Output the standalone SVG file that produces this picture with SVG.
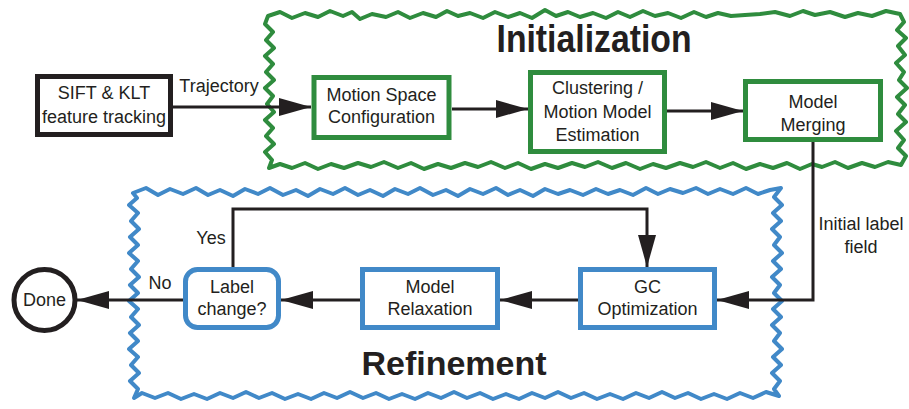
<svg xmlns="http://www.w3.org/2000/svg" width="909" height="409" viewBox="0 0 909 409">
<defs>
<style>
.t{font-family:"Liberation Sans",Arial,sans-serif;font-size:18px;fill:#231f20;text-anchor:middle}
.title{font-family:"Liberation Sans",Arial,sans-serif;font-weight:bold;fill:#231f20;text-anchor:middle}
.g{fill:#fff;stroke:#2f8c3e;stroke-width:5}
.b{fill:#fff;stroke:#4189c8;stroke-width:5}
.k{fill:#fff;stroke:#231f20;stroke-width:5}
.c{fill:none;stroke:#231f20;stroke-width:3}
.fg{fill:none;stroke:#2f8c3e;stroke-width:4;stroke-linejoin:round}
.fb{fill:none;stroke:#4189c8;stroke-width:4;stroke-linejoin:round}
</style>
<marker id="ah" markerUnits="userSpaceOnUse" markerWidth="32" markerHeight="18" refX="32" refY="9" orient="auto">
<path d="M0,0 L32,9 L0,18 Z" fill="#231f20"/>
</marker>
</defs>
<rect width="909" height="409" fill="#fff"/>
<g id="frames">
<path class="fg" d="M268,16 L280,12 L292,18 L305,13 L318,17 L330,11 L343,16 L352,12 L360,19 L372,14 L386,17 L398,12 L410,18 L423,13 L436,17 L447,11 L458,16 L470,13 L483,18 L495,12 L508,17 L520,13 L532,18 L545,10 L556,16 L568,12 L580,17 L593,13 L606,18 L618,12 L630,17 L643,11 L655,16 L668,13 L681,18 L694,12 L706,17 L718,13 L731,16 L745,15 L760,14 L775,12 L790,16 L803,11 L815,15 L830,12 L845,17 L858,13 L872,16 L886,11 L900,14 L904,22 L897,30 L906,38 L898,46 L905,55 L896,63 L904,72 L899,80 L907,88 L897,97 L905,105 L898,114 L906,122 L896,131 L904,140 L898,148 L906,156 L901,165 L888,162 L875,167 L862,163 L848,168 L835,162 L822,167 L812,164 L800,169 L787,163 L773,168 L760,164 L746,169 L733,163 L720,168 L706,162 L693,167 L680,163 L666,168 L653,164 L640,169 L626,163 L612,168 L598,162 L585,167 L572,163 L558,168 L545,164 L531,169 L518,163 L505,168 L491,162 L478,167 L465,163 L451,168 L438,164 L424,169 L411,163 L398,168 L384,162 L371,167 L358,163 L344,168 L331,164 L318,169 L305,163 L292,168 L280,164 L269,168 L272,160 L265,152 L274,144 L266,136 L273,128 L265,120 L274,112 L267,104 L273,96 L265,88 L274,80 L266,72 L273,64 L265,56 L274,48 L266,40 L273,32 L265,24 Z"/>
<path class="fb" d="M133,193 L146,188 L158,195 L170,189 L183,194 L196,188 L208,195 L220,190 L233,196 L245,189 L258,194 L270,188 L283,195 L296,190 L308,196 L320,189 L333,194 L345,188 L358,195 L370,190 L383,196 L395,189 L408,194 L420,188 L433,195 L446,190 L458,196 L470,189 L483,194 L496,188 L508,195 L520,190 L533,196 L545,189 L558,194 L570,190 L583,195 L596,189 L608,194 L620,190 L633,195 L646,188 L658,194 L670,189 L683,193 L696,188 L708,194 L720,189 L733,194 L746,188 L758,194 L770,190 L781,188 L774,197 L782,205 L773,213 L781,221 L772,229 L780,237 L774,245 L782,253 L773,261 L781,269 L772,277 L780,285 L774,293 L782,301 L773,309 L781,317 L772,325 L780,333 L774,341 L782,349 L773,357 L781,365 L772,373 L780,381 L774,389 L779,396 L766,392 L753,398 L740,393 L727,399 L714,394 L701,399 L688,393 L675,398 L662,392 L649,398 L636,393 L623,399 L610,394 L597,399 L584,393 L571,398 L558,392 L545,398 L532,393 L519,399 L506,394 L493,399 L480,393 L467,398 L454,392 L441,398 L428,393 L415,399 L402,394 L389,399 L376,393 L363,398 L350,392 L337,398 L324,393 L311,399 L298,394 L285,399 L272,393 L259,398 L246,392 L233,398 L220,393 L207,399 L194,394 L181,399 L168,393 L155,398 L142,393 L134,398 L138,389 L130,381 L139,373 L131,365 L138,357 L129,349 L138,341 L130,333 L139,325 L131,317 L138,309 L129,301 L138,293 L130,285 L139,277 L131,269 L138,261 L129,253 L138,245 L130,237 L139,229 L131,221 L138,213 L129,205 L137,198 Z"/>
<text class="title" x="594" y="52" font-size="38" textLength="195" lengthAdjust="spacingAndGlyphs">Initialization</text>
<text class="title" x="454" y="375" font-size="34">Refinement</text>
</g>
<g id="connectors">
<path class="c" d="M173,107 L311,107" marker-end="url(#ah)"/>
<path class="c" d="M452,109 L528,109" marker-end="url(#ah)"/>
<path class="c" d="M667,111 L743,111" marker-end="url(#ah)"/>
<path class="c" d="M813,142 L813,300 L717,300" marker-end="url(#ah)"/>
<path class="c" d="M578,300 L500,300" marker-end="url(#ah)"/>
<path class="c" d="M360,300 L281,300" marker-end="url(#ah)"/>
<path class="c" d="M183,300 L77,300" marker-end="url(#ah)"/>
<path class="c" d="M233,267 L233,209 L647,209 L647,267" marker-end="url(#ah)"/>
<text class="t" x="219" y="92">Trajectory</text>
<text class="t" x="211" y="244">Yes</text>
<text class="t" x="160" y="289">No</text>
<text class="t" x="861" y="230">Initial label</text>
<text class="t" x="861" y="253">field</text>
</g>
<g id="sift">
<rect class="k" x="37.5" y="76.5" width="133" height="58"/>
<text class="t" x="104" y="99">SIFT &amp; KLT</text>
<text class="t" x="104" y="123">feature tracking</text>
</g>
<g id="motion-space">
<rect class="g" x="314" y="77.5" width="135" height="60"/>
<text class="t" x="381.5" y="101">Motion Space</text>
<text class="t" x="381.5" y="123">Configuration</text>
</g>
<g id="clustering">
<rect class="g" x="530.5" y="72.5" width="134" height="79"/>
<text class="t" x="597.5" y="94">Clustering /</text>
<text class="t" x="597.5" y="118">Motion Model</text>
<text class="t" x="597.5" y="141">Estimation</text>
</g>
<g id="merging">
<rect class="g" x="745.5" y="81.5" width="135" height="58"/>
<text class="t" x="813" y="108">Model</text>
<text class="t" x="813" y="131">Merging</text>
</g>
<g id="gc">
<rect class="b" x="580.5" y="269.5" width="134" height="58"/>
<text class="t" x="647.5" y="293">GC</text>
<text class="t" x="647.5" y="315">Optimization</text>
</g>
<g id="relaxation">
<rect class="b" x="362.5" y="269.5" width="135" height="58"/>
<text class="t" x="430" y="293">Model</text>
<text class="t" x="430" y="315">Relaxation</text>
</g>
<g id="label-change">
<rect class="b" x="185.5" y="269.5" width="93" height="58" rx="12"/>
<text class="t" x="232" y="293">Label</text>
<text class="t" x="232" y="315">change?</text>
</g>
<g id="done">
<circle class="k" cx="44.5" cy="300" r="30.5" stroke-width="4"/>
<text class="t" x="44.5" y="306">Done</text>
</g>
</svg>
